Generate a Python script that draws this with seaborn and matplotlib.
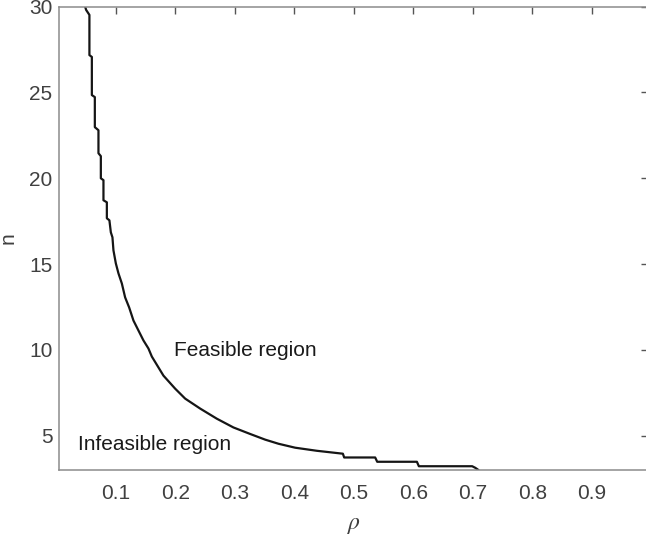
import pandas as pd
import matplotlib
matplotlib.use("Agg")
import matplotlib.pyplot as plt
import seaborn as sns

# Boundary between feasible / infeasible region
rho = [0.0484, 0.0501, 0.0556, 0.0556, 0.0597, 0.0597, 0.0647, 0.0647,
       0.0708, 0.0708, 0.0748, 0.0748, 0.0792, 0.0792, 0.0849, 0.0849,
       0.0892, 0.0916, 0.0943, 0.0960, 0.1000, 0.1044, 0.1101, 0.1156,
       0.1224, 0.1296, 0.1380, 0.1464, 0.1548, 0.1605, 0.1800, 0.1997,
       0.2165, 0.2417, 0.2697, 0.2976, 0.3257, 0.3509, 0.3733, 0.4013,
       0.4378, 0.4815, 0.4837, 0.5358, 0.5392, 0.6059, 0.6092, 0.6988,
       0.7039, 0.7094]
n = [30.0, 29.81, 29.52, 27.18, 27.07, 24.85, 24.73, 22.98,
     22.80, 21.46, 21.29, 20.00, 19.89, 18.72, 18.60, 17.67,
     17.55, 16.85, 16.56, 15.80, 15.04, 14.46, 13.87, 13.06,
     12.47, 11.71, 11.13, 10.55, 10.08, 9.61, 8.50, 7.74,
     7.16, 6.58, 5.99, 5.48, 5.10, 4.77, 4.53, 4.30,
     4.12, 3.95, 3.73, 3.73, 3.48, 3.48, 3.22, 3.22,
     3.13, 3.0]

x_ticks = [0.1, 0.2, 0.3, 0.4, 0.5, 0.6, 0.7, 0.8, 0.9]
y_ticks = [5, 10, 15, 20, 25, 30]

df = pd.DataFrame({"rho": rho, "n": n})

sns.set_theme(style="white")
plt.rcParams["font.family"] = ["Liberation Sans", "DejaVu Sans"]
plt.rcParams["mathtext.fontset"] = "stix"

grey = "#8c8c8c"
label_col = "#404040"

fig = plt.figure(figsize=(6.46, 5.39), dpi=100)
ax = fig.add_axes([0.0918, 0.128, 0.912, 0.8596])

sns.lineplot(data=df, x="rho", y="n", sort=False, estimator=None,
             color="#151515", linewidth=1.6, ax=ax)

ax.set_xlim(0.005, 0.995)
ax.set_ylim(3, 30)
ax.set_xticks(x_ticks)
ax.set_xticklabels([f"{t:g}" for t in x_ticks])
ax.set_yticks(y_ticks)

for s in ax.spines.values():
    s.set_color(grey)
    s.set_linewidth(1.1)
ax.tick_params(direction="in", length=5, width=1, color="#555555",
               labelsize=15, labelcolor=label_col, top=True, right=True)
ax.tick_params(axis="y", pad=5)
ax.tick_params(axis="x", pad=10)

ax.set_xlabel(r"$\rho$", fontsize=17, color=label_col, labelpad=8)
ax.set_ylabel("n", fontsize=15, color=label_col, labelpad=8)

ax.text(0.197, 9.67, "Feasible region", fontsize=15, color="#1a1a1a",
        ha="left", va="baseline")
ax.text(0.0371, 4.17, "Infeasible region", fontsize=15, color="#1a1a1a",
        ha="left", va="baseline")

fig.savefig("out.png", dpi=100)
